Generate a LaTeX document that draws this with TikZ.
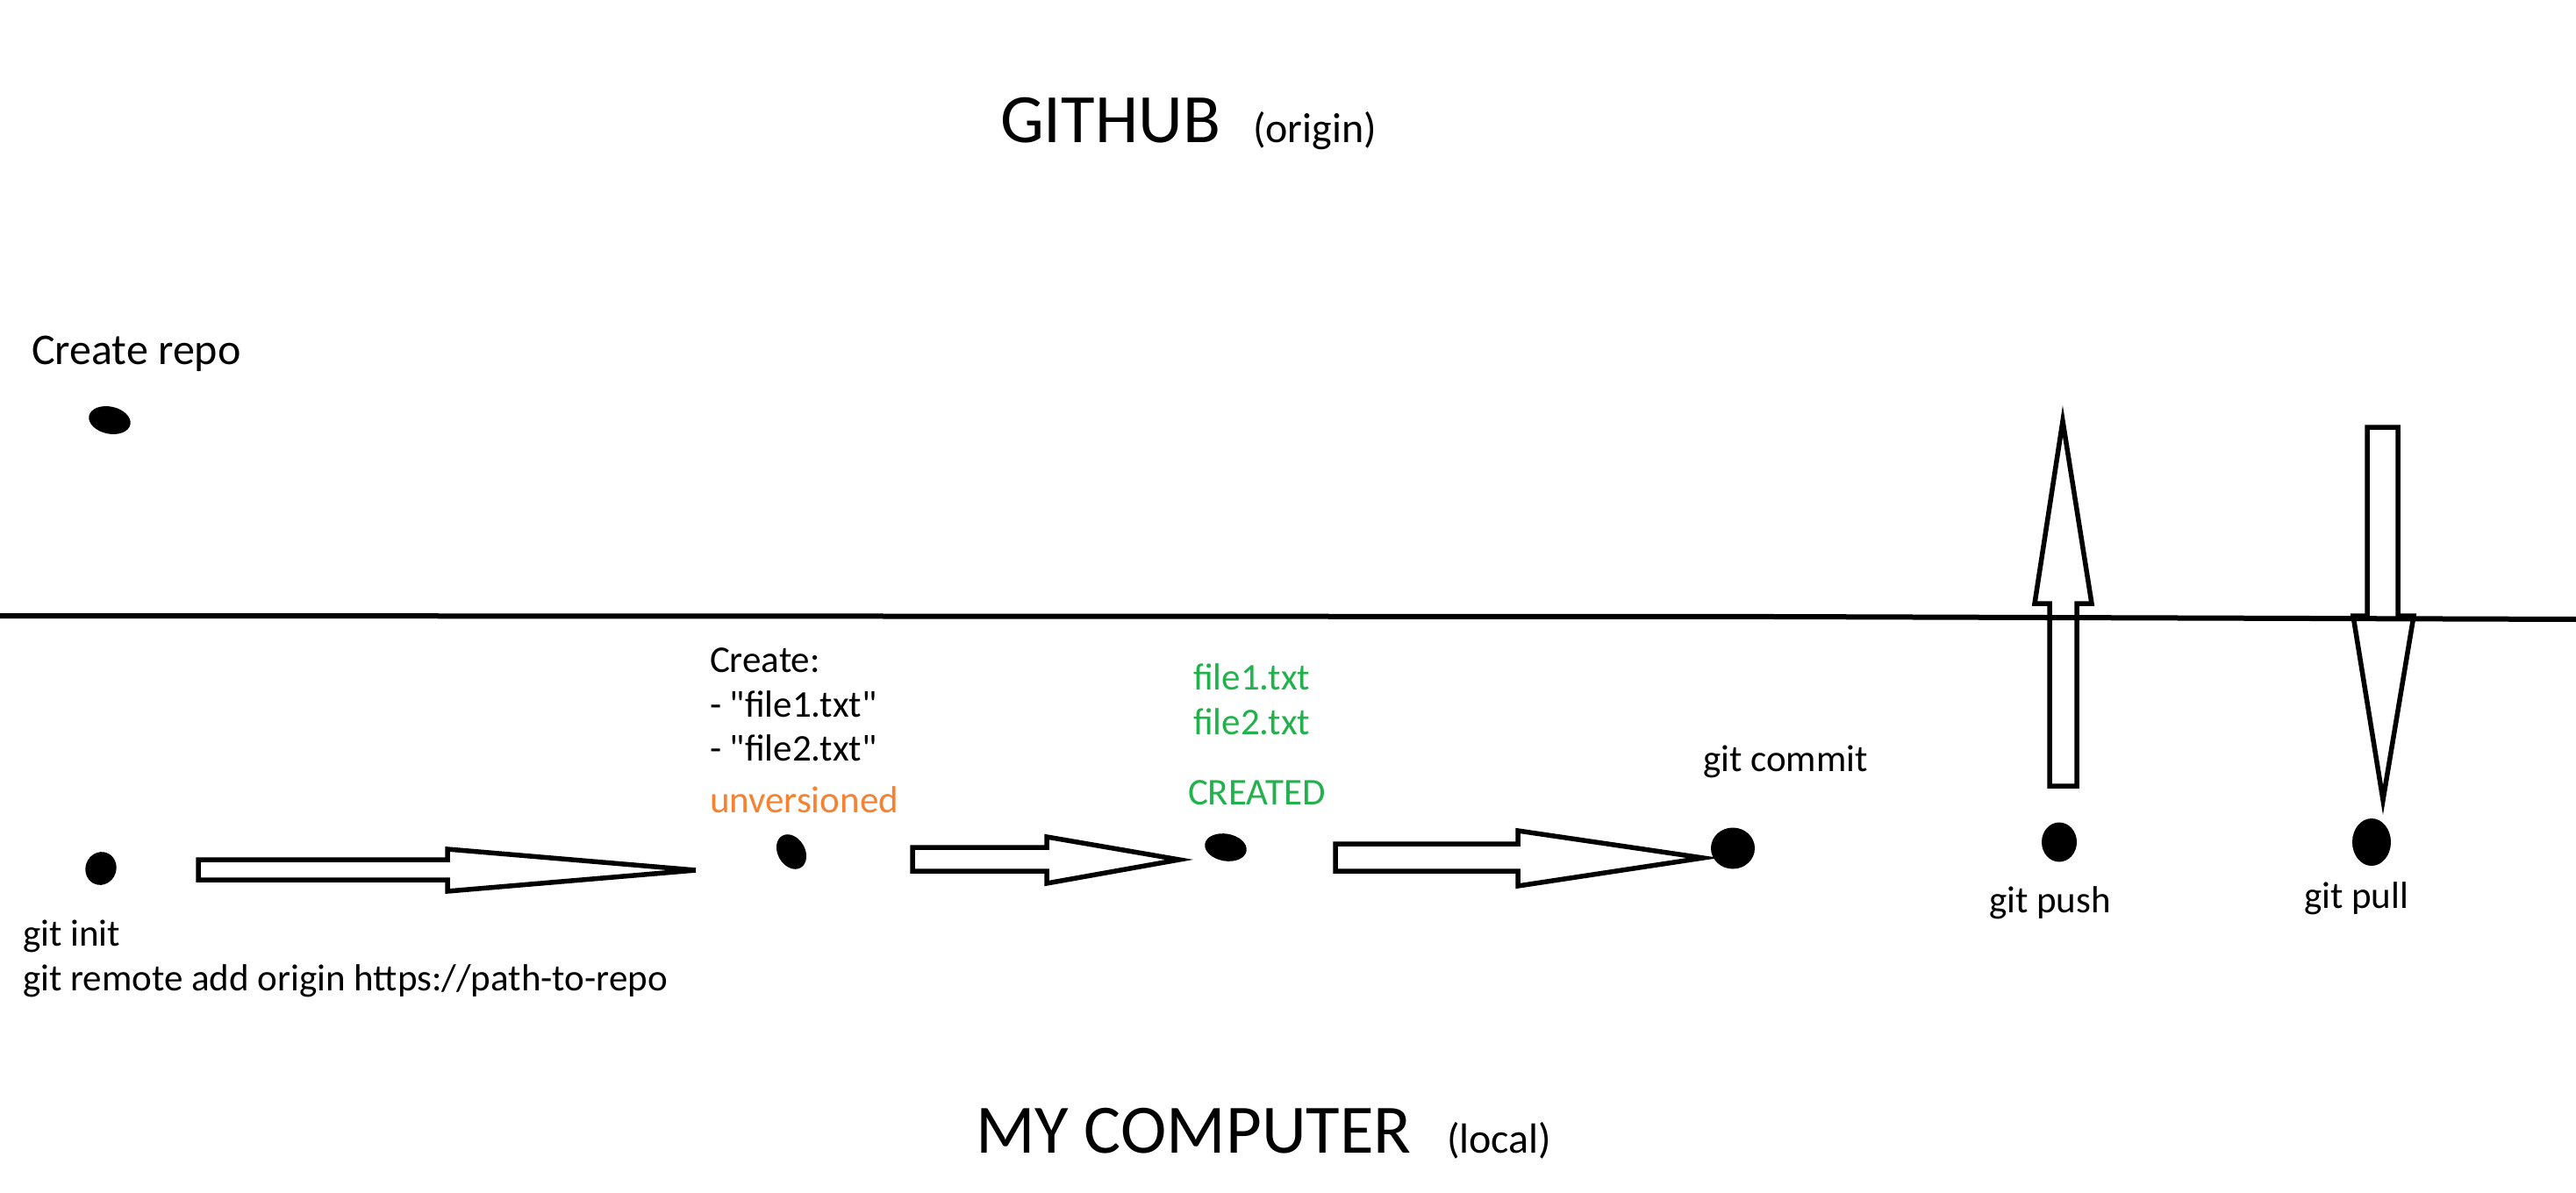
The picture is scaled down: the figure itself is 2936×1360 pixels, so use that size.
\documentclass[tikz,border=0pt]{standalone}
\usepackage{fontspec}
\setmainfont{Carlito}
\newfontfamily\cf{Carlito}
\usetikzlibrary{shapes.geometric}
\definecolor{pgreen}{HTML}{22B14C}
\definecolor{porange}{HTML}{F58232}
\begin{document}
\begin{tikzpicture}[x=1bp,y=-1bp,
  txt/.style={inner sep=0pt, outer sep=0pt, anchor=base west, font=\cf\fontsize{43bp}{50bp}\selectfont},
  midtxt/.style={inner sep=0pt, outer sep=0pt, anchor=base west, font=\cf\fontsize{48bp}{56bp}\selectfont},
  bigtxt/.style={inner sep=0pt, outer sep=0pt, anchor=base west, font=\cf\fontsize{79bp}{90bp}\selectfont},
  blob/.style={ellipse, fill=black, draw=none, inner sep=0pt},
  blockarrow/.style={draw=black, line width=5.5bp, line join=miter, fill=none},
  divider/.style={draw=black, line width=6bp}]
\useasboundingbox[fill=white] (0,0) rectangle (2936,1360);

% titles
\node[bigtxt] (github) at (1140,163) {GITHUB};
\node[midtxt] (origin) at (1428,163) {(origin)};
\node[bigtxt] (mycomp) at (1112,1314) {MY COMPUTER};
\node[midtxt] (local) at (1649,1314) {(local)};

% divider
\coordinate (divL) at (0,702);
\coordinate (divM) at (2030,703);
\coordinate (divR) at (2936,706);
\draw[divider] (divL) -- (divM) -- (divR);

% GitHub side
\node[midtxt, font=\cf\fontsize{50bp}{58bp}\selectfont] (createrepo) at (36,415) {Create repo};
\node[blob, minimum width=48bp, minimum height=31bp, rotate=-12] (d0) at (125,479) {};

% local side dots
\node[blob, minimum width=38bp, minimum height=35bp, rotate=70] (d1) at (115,990) {};
\node[blob, minimum width=42bp, minimum height=31bp, rotate=-60] (d2) at (902,971) {};
\node[blob, minimum width=48bp, minimum height=31bp, rotate=-10] (d3) at (1397,966) {};
\node[blob, minimum width=50bp, minimum height=47bp] (d4) at (1975,967) {};
\node[blob, minimum width=40bp, minimum height=45bp] (d5) at (2347,960) {};
\node[blob, minimum width=44bp, minimum height=54bp] (d6) at (2703,960) {};

% texts
\node[txt] (gitinit) at (26,1078) {git init};
\node[txt] (remote) at (26,1129) {git remote add origin https://path-to-repo};
\node[txt] (create) at (809,766) {Create:};
\node[txt] (f1) at (809,817) {- "file1.txt"};
\node[txt] (f2) at (809,867) {- "file2.txt"};
\node[txt, text=porange] (unv) at (809,926) {unversioned};
\node[txt, text=pgreen] (g1) at (1360,786) {file1.txt};
\node[txt, text=pgreen] (g2) at (1360,837) {file2.txt};
\node[txt, text=pgreen] (gc) at (1354,917) {CREATED};
\node[txt] (commit) at (1941,879) {git commit};
\node[txt] (push) at (2267,1040) {git push};
\node[txt] (pull) at (2626,1035) {git pull};

% block arrows
\draw[blockarrow] (226,980) -- (510,980) -- (510,968) -- (793,992) -- (510,1016) -- (510,1003) -- (226,1003) -- cycle;
\draw[blockarrow] (1040,966) -- (1193,966) -- (1193,954) -- (1344,980) -- (1193,1007) -- (1193,993) -- (1040,993) -- cycle;
\draw[blockarrow] (1522,962) -- (1730,962) -- (1730,947) -- (1941,978) -- (1730,1010) -- (1730,993) -- (1522,993) -- cycle;
% push (up)
\draw[blockarrow] (2336,896) -- (2336,688) -- (2319,688) -- (2351,480) -- (2384,688) -- (2367,688) -- (2367,896) -- cycle;
% pull (down)
\draw[blockarrow] (2698,702) -- (2698,487) -- (2733,487) -- (2733,702) -- (2751,702) -- (2716,912) -- (2682,702) -- cycle;
\end{tikzpicture}
\end{document}
